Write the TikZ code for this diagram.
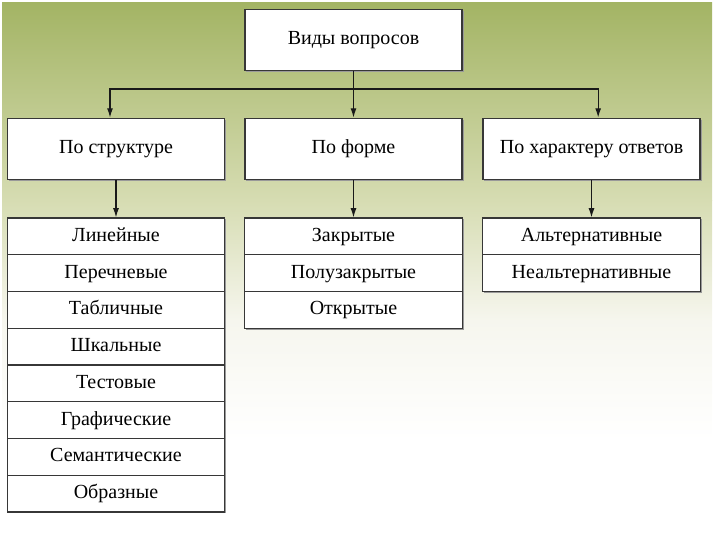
\documentclass[tikz,border=0pt]{standalone}
\usepackage{fontspec}
\setmainfont{Liberation Serif}
\usetikzlibrary{arrows.meta, shadows}
\definecolor{bgtop}{RGB}{163,180,100}
\definecolor{bgmid}{RGB}{214,220,178}
\definecolor{bglow}{RGB}{246,246,238}
\definecolor{frame}{RGB}{55,55,55}
\tikzset{
  head/.style={draw=frame, line width=1.1pt, fill=white, minimum width=163pt,
    minimum height=46pt, inner sep=0pt, text height=1.9ex, text depth=0.3ex,
    font=\fontsize{15}{17}\selectfont,
    drop shadow={shadow xshift=1pt, shadow yshift=-1pt, fill=gray!80, opacity=1}},
  item/.style={head, line width=0.9pt, minimum height=27.5pt,
    drop shadow={shadow xshift=0.8pt, shadow yshift=-1pt, fill=gray!80, opacity=1}},
  link/.style={line width=0.9pt, draw=black!90},
  arrow/.style={link, -{Latex[length=7pt,width=4.5pt]}}
}
\begin{document}
\begin{tikzpicture}[x=0.75pt, y=-0.75pt]
		\useasboundingbox (0,0) rectangle (720,540);
		% фон
		\shade[top color=bgtop, bottom color=bgmid] (2,2) rectangle (712,200);
		\shade[top color=bgmid, bottom color=bglow] (2,200) rectangle (712,320);
		\shade[top color=bglow, bottom color=white] (2,320) rectangle (712,440);
		% уровни
		\node[head] (top) at (353.5,40) {Виды вопросов};
		\node[head] (b1) at (116,149) {По структуре};
		\node[head] (b2) at (353.5,149) {По форме};
		\node[head] (b3) at (591.5,149) {По характеру ответов};
		% списки
		\foreach \t [count=\i] in {Линейные, Перечневые, Табличные, Шкальные,
		    Тестовые, Графические, Семантические, Образные}
		  \node[item] (s\i) at (116,{236.4+36.75*(\i-1)}) {\t};
		\foreach \t [count=\i] in {Закрытые, Полузакрытые, Открытые}
		  \node[item] (f\i) at (353.5,{236.4+36.75*(\i-1)}) {\t};
		\foreach \t [count=\i] in {Альтернативные, Неальтернативные}
		  \node[item] (h\i) at (591.5,{236.4+36.75*(\i-1)}) {\t};
		% связи
		\coordinate (fork) at (353.5,89);
		\draw[link] (top.south) -- (fork);
		\draw[arrow] (fork) -| ([xshift=-4.5pt]b1.north);
		\draw[arrow] (fork) -- (b2.north);
		\draw[arrow] (fork) -| ([xshift=5pt]b3.north);
		\draw[arrow] (b1.south) -- (s1.north);
		\draw[arrow] (b2.south) -- (f1.north);
		\draw[arrow] (b3.south) -- (h1.north);
	\end{tikzpicture}
\end{document}
